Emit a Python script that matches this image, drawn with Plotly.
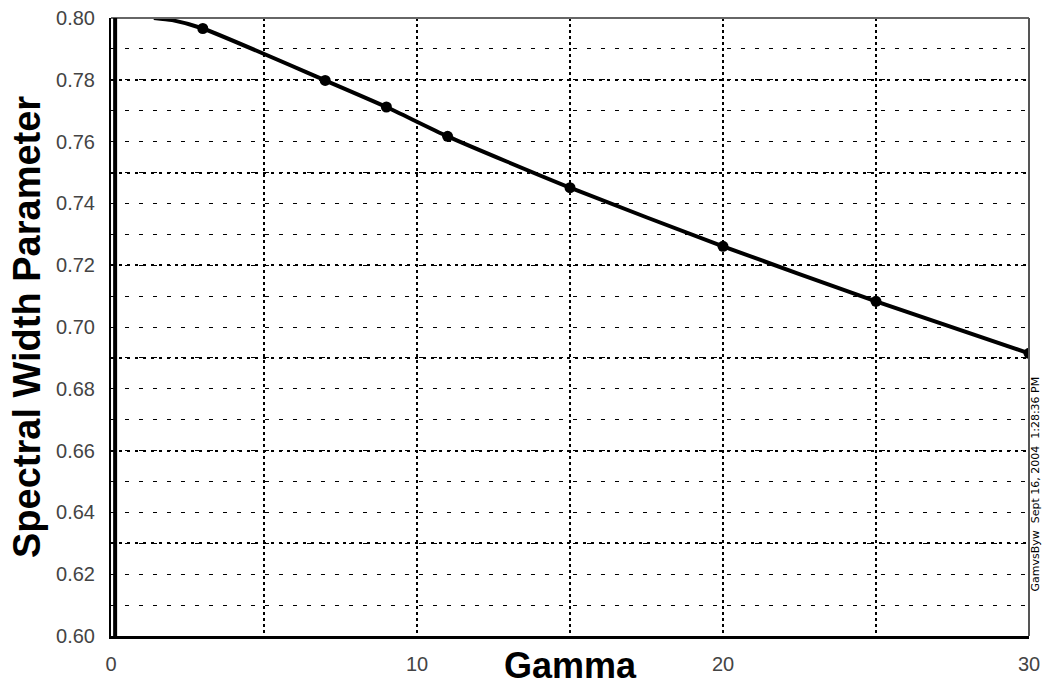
import plotly.graph_objects as go

# Data
gamma_pts = [3, 7, 9, 11, 15, 20, 25, 30]
width_pts = [0.7966, 0.7798, 0.7712, 0.7617, 0.7451, 0.7261, 0.7083, 0.6915]
# curve (starts at the top edge, then through the points)
gamma_curve = [1.4, 2.0] + gamma_pts
width_curve = [0.8000, 0.7993] + width_pts

x_ticks = [0, 10, 20, 30]
y_ticks = [0.60, 0.62, 0.64, 0.66, 0.68, 0.70, 0.72, 0.74, 0.76, 0.78, 0.80]
y_ticktext = [f"{v:.2f}" for v in y_ticks]

fig = go.Figure()
# invisible trace to activate the overlay axis carrying heavier grid lines
fig.add_trace(go.Scatter(x=[0, 30], y=[0.6, 0.8], mode="markers", marker=dict(opacity=0),
                         yaxis="y2", hoverinfo="skip", showlegend=False))
fig.add_trace(go.Scatter(x=gamma_curve, y=width_curve, mode="lines",
                         line=dict(color="black", width=4, shape="spline", smoothing=0.6),
                         showlegend=False, cliponaxis=True))
fig.add_trace(go.Scatter(x=gamma_pts, y=width_pts, mode="markers",
                         marker=dict(color="black", size=11), showlegend=False))

tickfont = dict(family="Liberation Sans, Arial, sans-serif", size=20, color="#444444")

fig.update_layout(
    width=1045, height=688,
    margin=dict(l=111, r=16, t=18, b=52, autoexpand=False),
    paper_bgcolor="white", plot_bgcolor="white",
    xaxis=dict(range=[0, 30], tickvals=x_ticks, ticktext=[str(v) for v in x_ticks],
               showgrid=True, gridcolor="black", gridwidth=1.5, griddash="dot",
               minor=dict(dtick=5, tick0=0, showgrid=True, gridcolor="black",
                          gridwidth=1.5, griddash="dot"),
               showline=True, linecolor="black", linewidth=3, automargin=False,
               ticks="", tickfont=tickfont, ticklabelstandoff=8, zeroline=False),
    yaxis=dict(range=[0.6, 0.8], tickvals=y_ticks, ticktext=y_ticktext,
               showgrid=True, gridcolor="black", gridwidth=1, griddash="4px,10px",
               minor=dict(dtick=0.01, tick0=0.6, showgrid=True, gridcolor="black",
                          gridwidth=1, griddash="4px,10px"),
               showline=True, linecolor="black", linewidth=2, automargin=False,
               ticks="", tickfont=tickfont, ticklabelstandoff=10, zeroline=False),
    yaxis2=dict(range=[0.6, 0.8], overlaying="y", side="left", dtick=0.03, tick0=0.6,
                showticklabels=False, showgrid=True, gridcolor="black", gridwidth=2,
                griddash="3px,5px", zeroline=False, showline=False, ticks="",
                automargin=False),
    shapes=[
        # top and right frame (gray), thick inner left bar
        dict(type="line", xref="x domain", yref="y domain", x0=0, x1=1, y0=1, y1=1,
             line=dict(color="#666666", width=2)),
        dict(type="line", xref="x domain", yref="y domain", x0=1, x1=1, y0=0, y1=1,
             line=dict(color="#555555", width=2)),
        dict(type="line", xref="x domain", yref="y domain", x0=0.0045, x1=0.0045, y0=0, y1=1,
             line=dict(color="black", width=4)),
    ],
    annotations=[
        dict(text="<b>Gamma</b>", xref="x domain", yref="y domain", x=0.5, y=0,
             xanchor="center", yanchor="middle", yshift=-29, showarrow=False,
             font=dict(family="Liberation Sans, Arial, sans-serif", size=36, color="black")),
        dict(text="<b>Spectral Width Parameter</b>", xref="x domain", yref="y domain",
             x=0, y=0.5, xanchor="center", yanchor="middle", xshift=-84, textangle=-90,
             showarrow=False,
             font=dict(family="Liberation Sans, Arial, sans-serif", size=38, color="black")),
        dict(text="GamvsByw  Sept 16, 2004  1:28:36 PM", xref="x domain", yref="y domain",
             x=1, y=0.245, xanchor="center", yanchor="middle", xshift=7, textangle=-90,
             showarrow=False,
             font=dict(family="DejaVu Sans, sans-serif", size=11, color="black")),
    ],
)

fig.write_html("out.html", config={"displayModeBar": False},
               post_script="document.body.style.margin='0';document.body.style.overflow='hidden';")
